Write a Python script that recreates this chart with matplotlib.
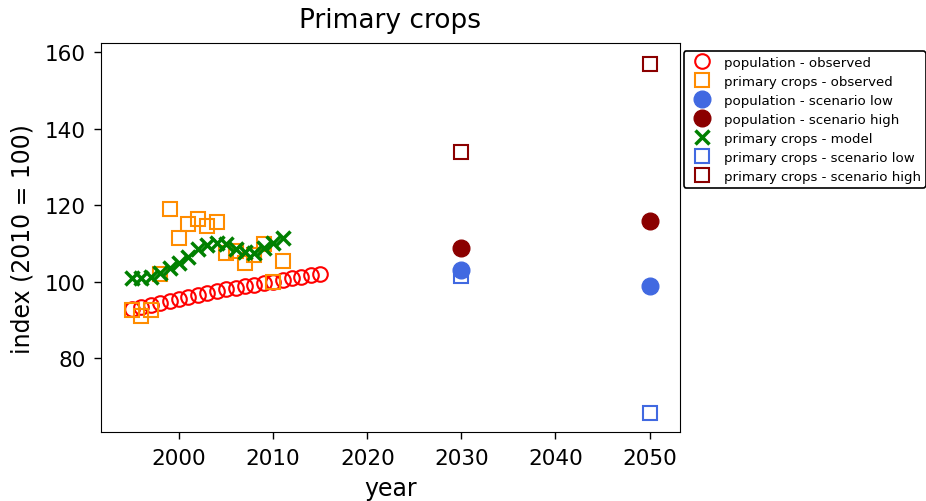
import numpy as np
import matplotlib
matplotlib.use('Agg')
import matplotlib.pyplot as plt

# observed / model years
years_pop = np.arange(1995, 2016)
years_crop = np.arange(1995, 2012)

pop_observed = [93.0, 93.4, 93.9, 94.4, 94.9, 95.4, 95.9, 96.5, 97.0, 97.5, 98.0,
                98.4, 98.8, 99.2, 99.6, 100.0, 100.5, 100.9, 101.3, 101.7, 102.1]
crop_observed = [92.5, 91.0, 92.5, 102.0, 119.0, 111.5, 115.0, 116.3, 114.5, 115.5,
                 107.5, 108.0, 105.0, 107.0, 109.8, 100.0, 105.5]
crop_model = [101.0, 101.0, 101.3, 102.3, 103.6, 104.8, 106.5, 108.5, 109.5, 110.0,
              109.8, 108.6, 107.8, 107.5, 108.8, 110.0, 111.3]

# scenarios
years_scen = [2030, 2050]
pop_low = [103.0, 99.0]
pop_high = [108.8, 115.8]
crop_low = [101.4, 65.8]
crop_high = [133.9, 156.8]

fig = plt.figure(figsize=(9.26, 5.02), dpi=100)
ax = fig.add_axes([0.109, 0.137, 0.625, 0.775])

ax.plot(years_pop, pop_observed, 'o', ls='none', mfc='none', mec='red', ms=10.5, mew=1.5,
        label='population - observed')
ax.plot(years_crop, crop_observed, 's', ls='none', mfc='none', mec='darkorange', ms=10, mew=1.5,
        label='primary crops - observed')
ax.plot(years_scen, pop_low, 'o', ls='none', color='royalblue', ms=12,
        label='population - scenario low')
ax.plot(years_scen, pop_high, 'o', ls='none', color='darkred', ms=12,
        label='population - scenario high')
ax.plot(years_crop, crop_model, 'x', ls='none', color='green', ms=10, mew=2.5,
        label='primary crops - model')
ax.plot(years_scen, crop_low, 's', ls='none', mfc='none', mec='royalblue', ms=10, mew=1.5,
        label='primary crops - scenario low')
ax.plot(years_scen, crop_high, 's', ls='none', mfc='none', mec='darkred', ms=10, mew=1.5,
        label='primary crops - scenario high')

ax.set_xlim(1991.7, 2053.2)
ax.set_ylim(60.7, 162.3)
ax.set_xticks([2000, 2010, 2020, 2030, 2040, 2050])
ax.set_yticks([80, 100, 120, 140, 160])
ax.tick_params(labelsize=15.5, length=5, pad=6, width=1)
ax.set_xlabel('year', fontsize=17, labelpad=6)
ax.set_ylabel('index (2010 = 100)', fontsize=17, labelpad=7)
ax.set_title('Primary crops', fontsize=19, pad=12)

leg = ax.legend(loc='upper left', bbox_to_anchor=(1.007, 0.979), borderaxespad=0,
                fontsize=9.6, numpoints=1, edgecolor='black', framealpha=1,
                labelspacing=0.45, borderpad=0.35, handletextpad=0.7)
leg.get_frame().set_linewidth(1.2)

fig.savefig('out.png', dpi=100)
